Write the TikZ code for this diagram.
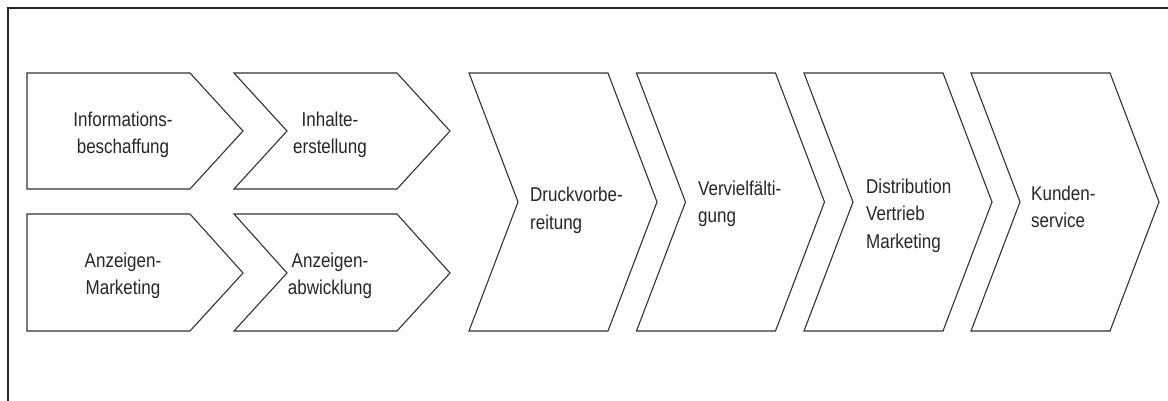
\documentclass[tikz,border=0pt]{standalone}
\usepackage{fontspec}
\setmainfont[FakeStretch=0.85]{Liberation Sans}
\begin{document}
\begin{tikzpicture}[x=1pt,y=-1pt,
  frame/.style={draw=black!85,line width=1.6pt},
  chev/.style={draw=black!80,line width=1.1pt,line join=miter},
  lbl/.style={inner sep=0pt,text=black!85,font=\fontsize{20}{27.5}\selectfont},
  lblc/.style={lbl,anchor=north,align=center},
  lbll/.style={lbl,anchor=north west,align=left}]
\useasboundingbox (0,0) rectangle (1168,401);
% frame (top and left)
\coordinate (fa) at (8,401);
\coordinate (fb) at (8,8);
\coordinate (fc) at (1168,8);
\draw[frame] (fa) -- (fb) -- (fc);
% small chevrons
\draw[chev] (27,73) -- (190,73) -- (243,131) -- (190,189) -- (27,189) -- cycle;
\draw[chev] (234,73) -- (397,73) -- (450,131) -- (397,189) -- (234,189) -- (287,131) -- cycle;
\draw[chev] (27,214) -- (190,214) -- (243,273) -- (190,331) -- (27,331) -- cycle;
\draw[chev] (234,214) -- (397,214) -- (450,273) -- (397,331) -- (234,331) -- (287,273) -- cycle;
% big chevrons
\foreach \x in {469,636.5,804,971}{
  \draw[chev] (\x,73) -- (\x+139,73) -- (\x+188,202) -- (\x+139,331) -- (\x,331) -- (\x+49,202) -- cycle;
}
% labels
\node[lblc] (info) at (123,106.75) {\strut Informations-\\beschaffung};
\node[lblc] (inh) at (330,106.75) {\strut Inhalte-\\erstellung};
\node[lblc] (am) at (123,247.75) {\strut Anzeigen-\\Marketing};
\node[lblc] (aa) at (330,247.75) {\strut Anzeigen-\\abwicklung};
\node[lbll] (dv) at (530,182.25) {\strut Druckvorbe-\\reitung};
\node[lbll] (vf) at (698,175.75) {\strut Vervielfälti-\\gung};
\node[lbll] (dist) at (866,173.75) {\strut Distribution\\Vertrieb\\Marketing};
\node[lbll] (ks) at (1031,180.75) {\strut Kunden-\\service};
\end{tikzpicture}
\end{document}
